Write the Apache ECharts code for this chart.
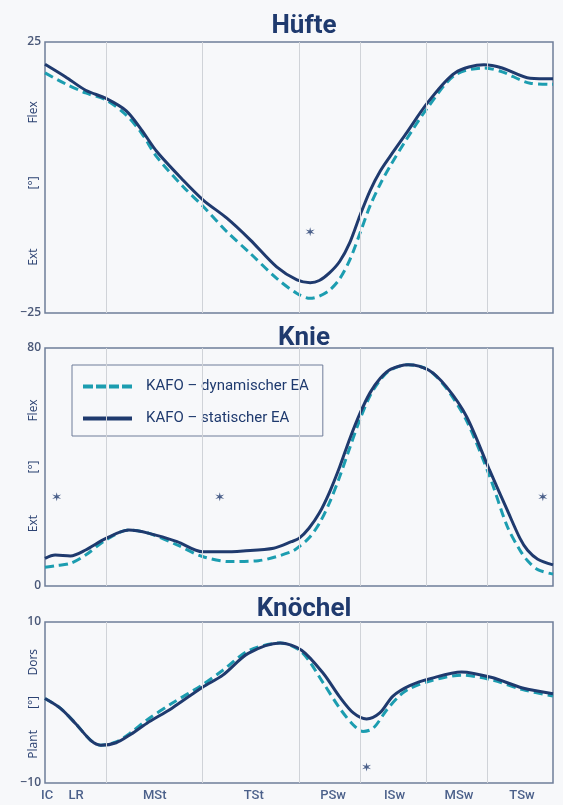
<!DOCTYPE html>
<html>
<head>
<meta charset="utf-8">
<script src="https://cdn.jsdelivr.net/npm/echarts@6/dist/echarts.min.js"></script>
<style>
html,body{margin:0;padding:0;background:#f7f8fa;}
#c{width:563px;height:805px;}
</style>
</head>
<body>
<div id="c"></div>
<script>
// ---- data ----
var titles = ['Hüfte', 'Knie', 'Knöchel'];
var seriesNames = ['KAFO – dynamischer EA', 'KAFO – statischer EA'];
var phaseBounds = [12, 31, 50, 62, 75, 87];
var phaseLabels = ['IC', 'LR', 'MSt', 'TSt', 'PSw', 'ISw', 'MSw', 'TSw'];
var phaseLabelX = [0.4, 6.1, 21.6, 41.1, 56.7, 68.8, 81.5, 93.9];

var hipStaticX = [0, 4, 8, 12, 16, 19, 22, 27.2, 31.2, 35.8, 40.4, 45.6, 49.6, 52.2, 54, 56, 58, 60, 62, 64, 66, 68, 71, 75.4, 80.7, 86.4, 90, 95.5, 100];
var hipStatic = [20.9, 18.6, 16.1, 14.6, 12.3, 8.8, 4.8, -0.5, -4.2, -7.5, -11.5, -16.5, -18.9, -19.4, -19.0, -17.6, -15.5, -12.0, -7.0, -2.4, 1.2, 4.0, 8.0, 13.9, 19.3, 20.8, 20.2, 18.3, 18.2];
var hipDynamicX = [0, 4, 8, 12, 16, 19, 22, 27.2, 31.2, 35.8, 40.4, 45.6, 49.6, 52.2, 54, 56, 58, 60, 62, 64, 66, 68, 71, 75.4, 80.7, 86.4, 90, 95.5, 100];
var hipDynamic = [19.3, 17.3, 15.6, 14.3, 11.5, 8.2, 3.8, -1.7, -5.4, -10.0, -14.0, -18.6, -21.4, -22.3, -21.9, -20.8, -18.7, -15.2, -10.3, -5.2, -1.2, 2.2, 6.8, 13.0, 18.9, 20.2, 19.5, 17.4, 17.2];

var kneeStaticX = [0, 2, 5, 8, 12, 16.5, 20.5, 26, 31, 35, 39, 45, 48.5, 50, 52, 54, 56, 58, 60, 62, 64, 66, 68, 71.5, 75.5, 79, 83, 87.5, 91, 93.5, 95, 97, 100];
var kneeStatic = [9.3, 10.4, 10.1, 12.1, 16.0, 18.8, 17.7, 14.9, 11.5, 11.5, 11.8, 12.7, 14.9, 16.0, 19.5, 24.5, 31.5, 40.0, 49.5, 58.0, 65.0, 69.8, 72.8, 74.4, 72.6, 67.0, 56.9, 39.0, 25.5, 16.0, 12.0, 9.0, 7.1];
var kneeDynamicX = [0, 2, 5, 8, 12, 16.5, 20.5, 26, 31, 36.4, 42, 48.5, 50, 52, 54, 56, 58, 60, 62, 64, 66, 68, 71.5, 75.5, 79, 83, 87.5, 91, 93.5, 95, 97, 100];
var kneeDynamic = [6.3, 6.8, 7.6, 10.4, 15.5, 18.8, 17.7, 13.8, 9.9, 8.2, 8.5, 11.5, 13.2, 16.2, 21.0, 28.0, 36.7, 46.5, 56.0, 64.0, 69.3, 72.6, 74.4, 72.6, 66.5, 55.5, 37.0, 20.0, 12.0, 8.5, 5.5, 4.0];

var ankleStaticX = [0, 3, 6, 9, 11, 14, 17, 20, 25, 31, 35, 40, 46.3, 50.5, 54.8, 58, 60.7, 63.3, 65.9, 68.5, 71.8, 76, 82, 88, 94, 100];
var ankleStatic = [0.5, -0.7, -2.6, -4.7, -5.3, -5.0, -3.9, -2.6, -0.7, 1.9, 3.4, 6.1, 7.4, 6.5, 3.6, 0.7, -1.3, -2.05, -1.3, 0.8, 2.1, 3.0, 3.8, 3.1, 1.8, 1.1];
var ankleDynamicX = [0, 3, 6, 9, 11, 14, 17, 20, 25, 31, 35, 40, 46.3, 50.5, 54.8, 58, 60.7, 62.6, 64.6, 67.3, 69.9, 72, 76, 82, 88, 94, 100];
var ankleDynamic = [0.5, -0.7, -2.6, -4.7, -5.3, -4.9, -3.7, -2.2, -0.1, 2.2, 4.0, 6.4, 7.4, 6.3, 2.4, -0.7, -2.8, -3.6, -3.2, -0.9, 0.9, 1.8, 2.7, 3.4, 2.8, 1.6, 0.8];

var hipStars = [[52.2, -10]];
var kneeStars = [[2.3, 30], [34.4, 30], [98, 30]];
var ankleStars = [[63.3, -8]];

var yRanges = [[-25, 25, 25], [0, 80, 80], [-10, 10, 10]];
var axisNames = [
  [['Flex', 12], ['[°]', -1], ['Ext', -14.7]],
  [['Flex', 59], ['[°]', 40], ['Ext', 21]],
  [['Dors', 5], ['[°]', 0], ['Plant', -5.2]]
];

// ---- style ----
var NAVY = '#1f3a6e';
var TEAL = '#1c9db0';
var BORDER = '#6f7d99';
var grids = [
  {left: 45, right: 10, top: 42, height: 271},
  {left: 45, right: 10, top: 348, height: 238},
  {left: 45, right: 10, top: 622, height: 161}
];
var titleTops = [8, 320, 591];

function pairs(xs, ys) { return xs.map(function (x, i) { return [x, ys[i]]; }); }
function starPath() {
  var pts = [];
  for (var k = 0; k < 12; k++) {
    var a = (-90 + 30 * k) * Math.PI / 180, r = (k % 2 === 0) ? 1 : 0.32;
    pts.push((r * Math.cos(a)).toFixed(3) + ',' + (r * Math.sin(a)).toFixed(3));
  }
  return 'path://M' + pts.join(' L') + ' Z';
}
var dashIcon = 'path://M0,0h10v4h-10z M13,0h10v4h-10z M26,0h10v4h-10z M39,0h10v4h-10z';

var option = {
  backgroundColor: '#f7f8fa',
  animation: false,
  title: titles.map(function (t, i) {
    return {text: t, left: 299, top: titleTops[i], textAlign: 'center',
      textStyle: {fontFamily: 'Roboto', fontSize: 26, fontWeight: 'bold', color: NAVY}};
  }),
  legend: {
    data: [
      {name: seriesNames[0], icon: dashIcon},
      {name: seriesNames[1], icon: 'rect'}
    ],
    orient: 'vertical', left: 72, top: 365,
    backgroundColor: '#f7f8fa',
    borderColor: BORDER, borderWidth: 1, borderRadius: 0,
    padding: [14, 14, 10, 11],
    itemWidth: 49, itemHeight: 4, itemGap: 17,
    textStyle: {fontFamily: 'Roboto', fontSize: 15, color: NAVY, padding: [0, 0, 0, 9]}
  },
  grid: grids.map(function (g) {
    return Object.assign({show: true, borderColor: BORDER, borderWidth: 1.5, backgroundColor: 'transparent'}, g);
  }),
  xAxis: grids.map(function (g, i) {
    return {type: 'value', gridIndex: i, min: 0, max: 100, axisLine: {show: false}, axisTick: {show: false},
      axisLabel: {show: false}, splitLine: {show: false}};
  }),
  yAxis: yRanges.map(function (r, i) {
    return {type: 'value', gridIndex: i, min: r[0], max: r[1], interval: r[2],
      axisLine: {show: false}, axisTick: {show: false}, splitLine: {show: false},
      axisLabel: {
        margin: 4, fontFamily: 'Open Sans', fontSize: 12, fontWeight: 600, color: '#4a5878',
        formatter: function (v) { return (v === r[0] || v === r[1]) ? String(v).replace('-', '−') : ''; }
      }};
  }),
  series: []
};

var datasets = [
  [hipDynamicX, hipDynamic, hipStaticX, hipStatic, hipStars],
  [kneeDynamicX, kneeDynamic, kneeStaticX, kneeStatic, kneeStars],
  [ankleDynamicX, ankleDynamic, ankleStaticX, ankleStatic, ankleStars]
];
datasets.forEach(function (d, i) {
  option.series.push({
    type: 'line', name: seriesNames[0], xAxisIndex: i, yAxisIndex: i, data: pairs(d[0], d[1]),
    smooth: 0.3, symbol: 'none', z: 3,
    lineStyle: {color: TEAL, width: 3, type: [9, 5]}, itemStyle: {color: TEAL},
    markLine: {silent: true, symbol: 'none', label: {show: false},
      lineStyle: {color: '#d0d3d8', width: 1, type: 'solid'},
      data: phaseBounds.map(function (b) { return {xAxis: b}; })}
  });
  option.series.push({
    type: 'line', name: seriesNames[1], xAxisIndex: i, yAxisIndex: i, data: pairs(d[2], d[3]),
    smooth: 0.3, symbol: 'none', z: 4,
    lineStyle: {color: NAVY, width: 3, type: 'solid'}, itemStyle: {color: NAVY}
  });
  option.series.push({
    type: 'scatter', name: 'sig', xAxisIndex: i, yAxisIndex: i, data: d[4],
    symbol: starPath(), symbolSize: 9, itemStyle: {color: NAVY}, z: 5
  });
});
option.series.push({
  type: 'scatter', name: 'phases', xAxisIndex: 2, yAxisIndex: 2,
  data: phaseLabelX.map(function (x, i) { return {value: [x, -10], name: phaseLabels[i]}; }),
  symbol: 'circle', symbolSize: 1, itemStyle: {color: 'rgba(0,0,0,0)'},
  label: {show: true, position: 'bottom', distance: 6, formatter: '{b}',
    fontFamily: 'Roboto', fontSize: 13, fontWeight: 500, color: NAVY}
});

var chart = echarts.init(document.getElementById('c'), null, {renderer: 'canvas'});
chart.setOption(option);

// rotated axis-name texts, positioned through the axes
var graphics = [];
axisNames.forEach(function (names, i) {
  names.forEach(function (n) {
    var p = chart.convertToPixel({gridIndex: i}, [0, n[1]]);
    graphics.push({type: 'text', x: 34, y: p[1], rotation: Math.PI / 2,
      style: {text: n[0], textAlign: 'center', textVerticalAlign: 'middle',
        fontFamily: 'Open Sans', fontSize: 12, fontWeight: 500, fill: '#2c4272'}});
  });
});
chart.setOption({graphic: graphics});
</script>
</body>
</html>
